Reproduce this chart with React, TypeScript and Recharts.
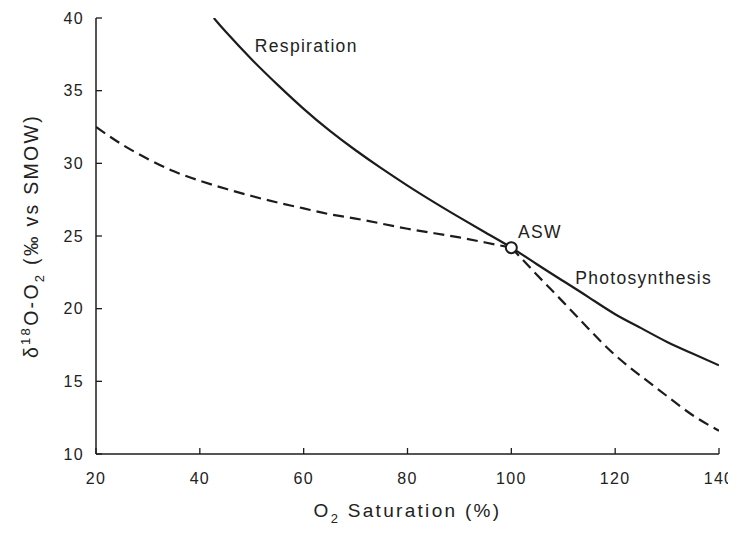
import { LineChart, Line, XAxis, YAxis, ReferenceDot, Label } from 'recharts'

const FONT = '"Liberation Sans", Arial, Helvetica, sans-serif'
const INK = '#1c1c1c'

const SAT_TICKS = [20, 40, 60, 80, 100, 120, 140]
const DELTA_TICKS = [10, 15, 20, 25, 30, 35, 40]

// solid curve: respiration branch down through ASW into photosynthesis
const solidSat = [42.7, 45, 50, 55, 60, 65, 70, 75, 80, 85, 90, 95, 100, 105, 110, 115, 120, 125, 130, 135, 140]
const solidDelta = [40.0, 39.05, 37.15, 35.4, 33.75, 32.25, 30.9, 29.65, 28.47, 27.35, 26.28, 25.24, 24.2, 23.04, 21.9, 20.76, 19.62, 18.66, 17.71, 16.9, 16.1]

// dashed curve, split at ASW where the slope changes
const dashLowSat = [20, 25, 30, 35, 40, 45, 50, 55, 60, 65, 70, 75, 80, 85, 90, 95, 100]
const dashLowDelta = [32.5, 31.3, 30.3, 29.45, 28.8, 28.25, 27.75, 27.3, 26.9, 26.5, 26.2, 25.85, 25.5, 25.2, 24.9, 24.55, 24.2]
const dashHighSat = [100, 105, 110, 115, 120, 125, 130, 135, 140]
const dashHighDelta = [24.2, 22.3, 20.45, 18.57, 16.8, 15.35, 13.98, 12.65, 11.6]

const aswSat = [100]
const aswDelta = [24.2]

const zip = (xs: number[], ys: number[]) => xs.map((sat, i) => ({ sat, delta: ys[i] }))

const solid = zip(solidSat, solidDelta)
const dashLow = zip(dashLowSat, dashLowDelta)
const dashHigh = zip(dashHighSat, dashHighDelta)
const asw = zip(aswSat, aswDelta)

const TICK_LEN = 6
const labelText = { fill: '#222', fontSize: 16, fontFamily: FONT, letterSpacing: 1.3 }
const noteStyle = { fill: '#222', fontSize: 17.5, fontFamily: FONT, letterSpacing: 1.3 }

// ticks point into the plot, labels sit outside
const XTick = (p: any) => (
  <g>
    <line x1={p.x} x2={p.x} y1={p.y} y2={p.y - TICK_LEN} stroke={INK} strokeWidth={1.3} />
    <text x={p.x} y={p.y + 29.5} textAnchor="middle" {...labelText}>
      {p.payload.value}
    </text>
  </g>
)

const YTick = (p: any) => (
  <g>
    <line x1={p.x} x2={p.x + TICK_LEN} y1={p.y} y2={p.y} stroke={INK} strokeWidth={1.3} />
    <text x={p.x - 12} y={p.y + 5.7} textAnchor="end" {...labelText}>
      {p.payload.value}
    </text>
  </g>
)

const XTitle = (props: any) => {
  const { x, y, width } = props.viewBox
  return (
    <text x={x + width / 2} y={y + 63} textAnchor="middle" fill="#222" fontSize={19} fontFamily={FONT} letterSpacing={2.3}>
      <tspan>O</tspan>
      <tspan fontSize={13} dy={6}>2</tspan>
      <tspan dy={-6}> Saturation (%)</tspan>
    </text>
  )
}

const YTitle = (props: any) => {
  const { y, height } = props.viewBox
  const cx = 30
  const cy = y + height / 2
  return (
    <text
      x={cx}
      y={cy}
      transform={`rotate(-90, ${cx}, ${cy})`}
      textAnchor="middle"
      fill="#222"
      fontSize={19.5}
      fontFamily={FONT}
      letterSpacing={2.3}
    >
      <tspan>δ</tspan>
      <tspan fontSize={13} dy={-8}>18</tspan>
      <tspan dy={8}>O-O</tspan>
      <tspan fontSize={13} dy={6}>2</tspan>
      <tspan dy={-6}> (‰ vs SMOW)</tspan>
    </text>
  )
}

const note = (text: string) => (p: any) => (
  <text x={p.cx} y={p.cy} {...noteStyle}>
    {text}
  </text>
)

export default function App() {
  return (
    <div style={{ width: 720, height: 517 }}>
      {/* let the last x tick label spill past the svg edge */}
      <style>{'.recharts-wrapper, .recharts-surface { overflow: visible !important; }'}</style>
      <LineChart width={720} height={517} margin={{ top: 10, right: 9, bottom: 0, left: 0 }}>
        <XAxis
          dataKey="sat"
          type="number"
          domain={[20, 140]}
          ticks={SAT_TICKS}
          interval={0}
          allowDataOverflow
          height={71}
          tickSize={0}
          tickMargin={0}
          axisLine={{ stroke: INK, strokeWidth: 1.5 }}
          tickLine={false}
          tick={XTick}
        >
          <Label content={XTitle} />
        </XAxis>
        <YAxis
          dataKey="delta"
          type="number"
          domain={[10, 40]}
          ticks={DELTA_TICKS}
          interval={0}
          allowDataOverflow
          width={88}
          tickSize={0}
          tickMargin={0}
          axisLine={{ stroke: INK, strokeWidth: 1.5 }}
          tickLine={false}
          tick={YTick}
        >
          <Label content={YTitle} />
        </YAxis>
        <Line data={solid} dataKey="delta" type="natural" stroke={INK} strokeWidth={2.2} dot={false} isAnimationActive={false} />
        <Line data={dashLow} dataKey="delta" type="natural" stroke={INK} strokeWidth={2.2} strokeDasharray="11 6" dot={false} isAnimationActive={false} />
        <Line data={dashHigh} dataKey="delta" type="natural" stroke={INK} strokeWidth={2.2} strokeDasharray="11 6" dot={false} isAnimationActive={false} />
        <Line
          data={asw}
          dataKey="delta"
          stroke="none"
          dot={{ r: 5.5, fill: '#fff', stroke: INK, strokeWidth: 2 }}
          isAnimationActive={false}
        />
        <ReferenceDot x={50.6} y={37.68} r={0} shape={note('Respiration')} />
        <ReferenceDot x={112.3} y={21.67} r={0} shape={note('Photosynthesis')} />
        <ReferenceDot x={101.3} y={24.86} r={0} shape={note('ASW')} />
      </LineChart>
    </div>
  )
}
